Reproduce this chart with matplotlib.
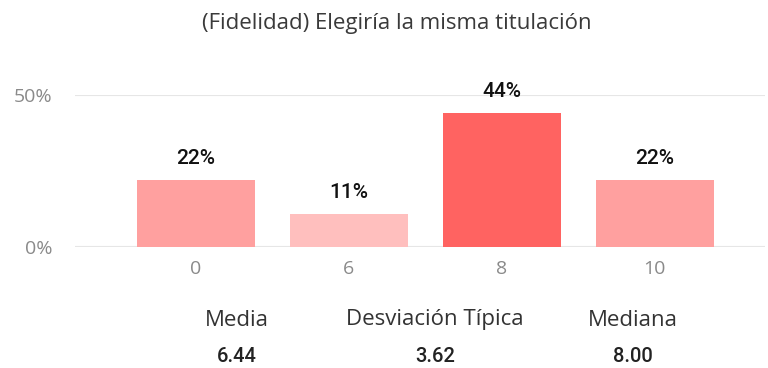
import matplotlib.pyplot as plt

# survey answers: score -> share of respondents (%)
categories = ['0', '6', '8', '10']
shares = [22, 11, 44, 22]
bar_colors = ['#FFA09F', '#FFBFBE', '#FF6361', '#FFA09F']

stat_names = ['Media', 'Desviación Típica', 'Mediana']
stat_values = ['6.44', '3.62', '8.00']

title = '(Fidelidad) Elegiría la misma titulación'

fig = plt.figure(figsize=(7.68, 3.68), dpi=100)
ax = fig.add_axes([75 / 768, 1 - 247 / 368, (765 - 75) / 768, (247 - 95) / 368])

x = range(len(categories))
ax.bar(x, shares, width=0.77, color=bar_colors, zorder=2)

for xi, v in zip(x, shares):
    ax.text(xi, v + 7, f'{v}%', ha='center', va='center', fontsize=15,
            family='Roboto', fontweight='medium', color='#111111')

ax.set_ylim(0, 50)
ax.set_xlim(-0.79, 3.72)
ax.set_yticks([0, 50])
ax.set_yticklabels(['0%', '50%'])
ax.set_xticks(list(x))
ax.set_xticklabels(categories)
ax.grid(axis='y', color='#E6E6E6', linewidth=1.5, zorder=0)
for s in ax.spines.values():
    s.set_visible(False)
ax.tick_params(length=0, labelsize=14, labelcolor='#8A8A8A')
ax.tick_params(axis='x', pad=9)
ax.tick_params(axis='y', pad=16)
for lab in ax.get_xticklabels() + ax.get_yticklabels():
    lab.set_family('Open Sans')

fig.text(0.5 + 13 / 768, 1 - 23 / 368, title, ha='center', va='center',
         fontsize=16, family='Open Sans', color='#3A3A3A')

stat_x = [237, 435, 633]
for sx, name, val in zip(stat_x, stat_names, stat_values):
    fig.text(sx / 768, 1 - 320 / 368, name, ha='center', va='center',
             fontsize=16, family='Open Sans', color='#333333')
    fig.text(sx / 768, 1 - 357 / 368, val, ha='center', va='center',
             fontsize=14.5, family='Roboto', fontweight='medium', color='#222222')

fig.savefig('out.png', dpi=100)
